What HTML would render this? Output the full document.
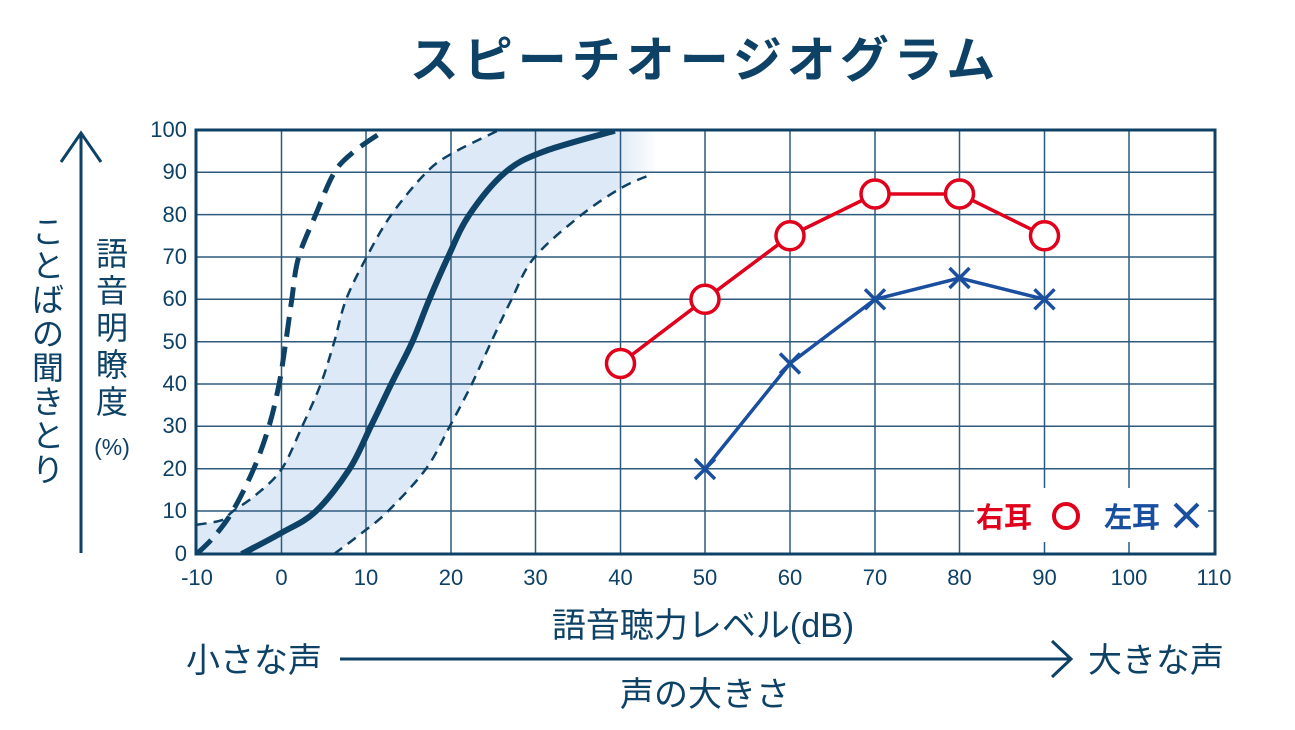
<!DOCTYPE html>
<html><head><meta charset="utf-8"><style>
html,body{margin:0;padding:0;background:#fff;}
svg{display:block;font-family:"Liberation Sans","Noto Sans CJK JP",sans-serif;}
</style></head><body>
<svg id="s" width="1295" height="730" viewBox="0 0 1295 730" xmlns="http://www.w3.org/2000/svg">
<defs>
<linearGradient id="fade" gradientUnits="userSpaceOnUse" x1="615" y1="0" x2="660" y2="0">
<stop offset="0" stop-color="#fff" stop-opacity="0"/>
<stop offset="1" stop-color="#fff" stop-opacity="1"/>
</linearGradient>
<clipPath id="pc"><rect x="196" y="130" width="1019" height="424"/></clipPath>
</defs>
<text x="705" y="77" text-anchor="middle" font-size="49" font-weight="bold" fill="#0d4166" letter-spacing="5">スピーチオージオグラム</text>

<g clip-path="url(#pc)">
<path id="band" d="" fill="#dde9f6"/>
<rect x="612" y="128" width="60" height="80" fill="url(#fade)"/>
</g>

<g stroke="#2e5a7e" stroke-width="1.5" fill="none">
<path d="M281.5,130V554M366,130V554M451,130V554M535.5,130V554M620.5,130V554M705,130V554M790,130V554M875,130V554M959.5,130V554M1044.5,130V554M1129,130V554"/>
<path d="M196,172.3H1215M196,214.6H1215M196,257H1215M196,299.3H1215M196,341.7H1215M196,384H1215M196,426.3H1215M196,468.7H1215M196,511H1215"/>
</g>
<rect x="196" y="130" width="1019" height="424" fill="none" stroke="#0d4166" stroke-width="3"/>

<g clip-path="url(#pc)" fill="none" stroke="#0d4166">
<path id="tl" d="" stroke-width="2.5" stroke-dasharray="10,7"/>
<path id="tr" d="" stroke-width="2.5" stroke-dasharray="10,7"/>
<path id="tk" d="" stroke-width="5" stroke-dasharray="20,10"/>
<path id="sl" d="" stroke-width="6"/>
</g>

<rect x="974" y="488" width="234" height="54" fill="#fff"/>
<text x="976" y="527" font-size="28" fill="#e0001b" font-weight="bold">右耳</text>
<circle cx="1066" cy="516" r="12" fill="none" stroke="#e0001b" stroke-width="4"/>
<text x="1104" y="527" font-size="28" fill="#1a4fa0" font-weight="bold">左耳</text>
<path d="M1175,504L1198,527M1198,504L1175,527" stroke="#1a4fa0" stroke-width="4"/>

<polyline points="620.5,363.5 705,299.3 790,235.8 875,194 959.5,194 1044.5,235.8" fill="none" stroke="#e0001b" stroke-width="3.5"/>
<g fill="#fff" stroke="#e0001b" stroke-width="3.5">
<circle cx="620.5" cy="363.5" r="14"/><circle cx="705" cy="299.3" r="14"/><circle cx="790" cy="235.8" r="14"/><circle cx="875" cy="194" r="14"/><circle cx="959.5" cy="194" r="14"/><circle cx="1044.5" cy="235.8" r="14"/>
</g>
<polyline points="705,469 790,363.5 875,299.3 959.5,278 1044.5,299.3" fill="none" stroke="#1a4fa0" stroke-width="3.5"/>
<g stroke="#1a4fa0" stroke-width="3.5">
<path d="M695,459L715,479M715,459L695,479"/>
<path d="M780,353.5L800,373.5M800,353.5L780,373.5"/>
<path d="M865,289.3L885,309.3M885,289.3L865,309.3"/>
<path d="M949.5,268L969.5,288M969.5,268L949.5,288"/>
<path d="M1034.5,289.3L1054.5,309.3M1054.5,289.3L1034.5,309.3"/>
</g>

<g font-size="22" fill="#0d4166" text-anchor="end">
<text x="187" y="137">100</text><text x="187" y="179">90</text><text x="187" y="222">80</text><text x="187" y="264">70</text><text x="187" y="306">60</text><text x="187" y="349">50</text><text x="187" y="391">40</text><text x="187" y="433">30</text><text x="187" y="476">20</text><text x="187" y="518">10</text><text x="187" y="561">0</text>
</g>
<g font-size="22" fill="#0d4166" text-anchor="middle">
<text x="197" y="585">-10</text><text x="281.5" y="585">0</text><text x="366" y="585">10</text><text x="451" y="585">20</text><text x="535.5" y="585">30</text><text x="620.5" y="585">40</text><text x="705" y="585">50</text><text x="790" y="585">60</text><text x="875" y="585">70</text><text x="959.5" y="585">80</text><text x="1044.5" y="585">90</text><text x="1129" y="585">100</text><text x="1214" y="585">110</text>
</g>

<text x="703" y="637" text-anchor="middle" font-size="34" fill="#0d4166">語音聴力レベル(dB)</text>
<text x="186" y="672" font-size="34" fill="#0d4166">小さな声</text>
<text x="1088" y="672" font-size="34" fill="#0d4166">大きな声</text>
<text x="705" y="706" text-anchor="middle" font-size="34" fill="#0d4166">声の大きさ</text>
<path d="M340,659H1071M1052,641L1071,659L1052,677" fill="none" stroke="#0d4166" stroke-width="3"/>

<path d="M81,553V133M61,162L81,133L101,162" fill="none" stroke="#0d4166" stroke-width="3"/>
<g font-size="32" fill="#0d4166" text-anchor="middle">
<text x="48" y="243">こ</text><text x="48" y="277">と</text><text x="48" y="311">ば</text><text x="48" y="345">の</text><text x="48" y="379">聞</text><text x="48" y="413">き</text><text x="48" y="447">と</text><text x="48" y="481">り</text>
</g>
<g font-size="32" fill="#0d4166" text-anchor="middle">
<text x="112" y="265">語</text><text x="112" y="302">音</text><text x="112" y="339">明</text><text x="112" y="376">瞭</text><text x="112" y="413">度</text>
</g>
<text x="112" y="455" text-anchor="middle" font-size="23" fill="#0d4166">(%)</text>
</svg>
<script>
function X(d){return 281.5+d*8.48;}function Y(v){return 554-v*4.233;}
function pts(a){return a.map(function(p){return [X(p[0]),Y(p[1])];});}
function cr(P){var d="M"+P[0][0].toFixed(1)+","+P[0][1].toFixed(1);
for(var i=0;i<P.length-1;i++){var p0=P[i-1]||P[i],p1=P[i],p2=P[i+1],p3=P[i+2]||p2;
var c1=[p1[0]+(p2[0]-p0[0])/6,p1[1]+(p2[1]-p0[1])/6],c2=[p2[0]-(p3[0]-p1[0])/6,p2[1]-(p3[1]-p1[1])/6];
d+="C"+c1[0].toFixed(1)+","+c1[1].toFixed(1)+" "+c2[0].toFixed(1)+","+c2[1].toFixed(1)+" "+p2[0].toFixed(1)+","+p2[1].toFixed(1);}return d;}
var TL=pts([[-10,6.9],[-7,8],[-5.8,10],[-3,14],[0,20],[2.4,30],[4.6,40],[6.2,50],[7.6,60],[10,70],[12.9,80],[17,90],[20,94.5],[25.5,100]]);
var TR=pts([[6.2,0],[9.5,5],[12.5,10],[17,20],[19.8,30],[22.4,40],[24.7,50],[27.1,60],[29.8,70],[35.3,80],[40.1,86.5],[43.4,89.5]]);
var TK=pts([[-10,0],[-8,4],[-5.8,10],[-3.3,20],[-1.5,30],[-0.3,40],[0.5,50],[1.2,60],[2,70],[4,80],[6.2,90],[8.5,95],[12.1,100]]);
var SL=pts([[-4.7,0],[0,5],[4,10],[8,20],[10.5,30],[12.9,40],[15.4,50],[17.4,60],[19.6,70],[22.1,80],[26.3,90],[30.8,95],[39.3,100]]);
document.getElementById('tl').setAttribute('d',cr(TL));
document.getElementById('tr').setAttribute('d',cr(TR));
document.getElementById('tk').setAttribute('d',cr(TK));
document.getElementById('sl').setAttribute('d',cr(SL));
var trr=cr(TR.slice().reverse()).replace(/^M/,'L');
document.getElementById('band').setAttribute('d',cr(TL)+"L655,130L655,"+Y(89.5).toFixed(1)+trr+"L196,554Z");
</script>
</body></html>
